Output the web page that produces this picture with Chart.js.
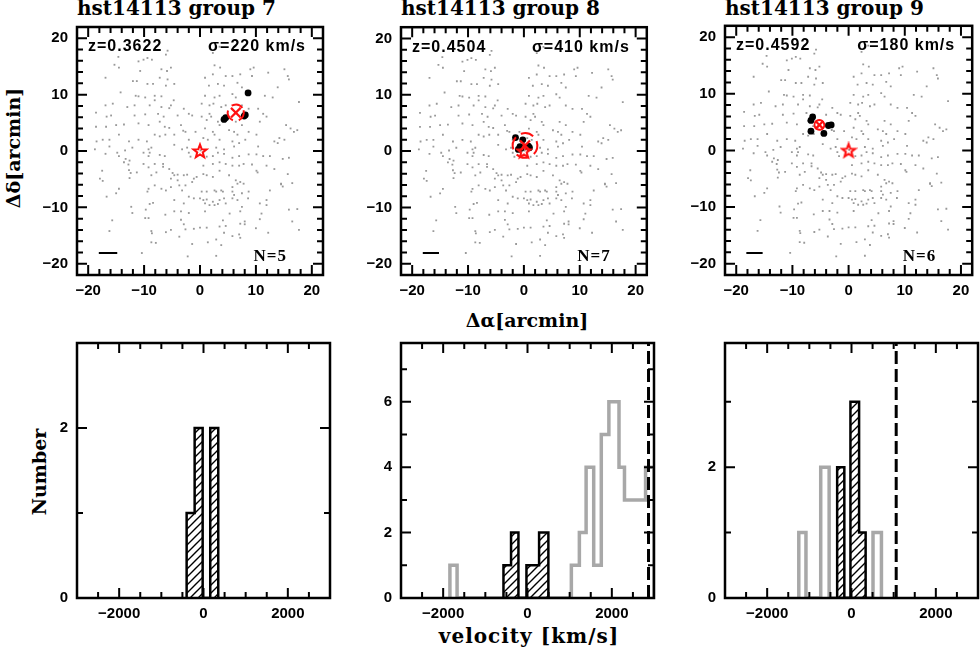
<!DOCTYPE html>
<html>
<head>
<meta charset="utf-8">
<script src="https://cdn.jsdelivr.net/npm/chart.js@4.4.1/dist/chart.umd.min.js"></script>
<style>
  body { margin: 0; background: #fff; width: 980px; height: 653px; position: relative; overflow: hidden; }
  canvas { position: absolute; }
  .lbl { position: absolute; font-family: "DejaVu Serif"; font-weight: bold; color: #000; white-space: nowrap; line-height: 1; }
  .c { transform: translate(-50%, -50%); }
  .r { transform: translate(-50%, -50%) rotate(-90deg); }
</style>
</head>
<body>
<div class="lbl" style="left:77px;top:-2px;font-size:20px">hst14113 group 7</div>
<div class="lbl" style="left:401px;top:-2px;font-size:20px">hst14113 group 8</div>
<div class="lbl" style="left:725px;top:-2px;font-size:20px">hst14113 group 9</div>
<div class="lbl r" style="left:13px;top:148px;font-size:19px">&Delta;&delta;[arcmin]</div>
<div class="lbl c" style="left:527px;top:320px;font-size:19px">&Delta;&alpha;[arcmin]</div>
<div class="lbl r" style="left:39px;top:472px;font-size:19px">Number</div>
<div class="lbl c" style="left:529px;top:636px;font-size:20px;letter-spacing:1px">velocity [km/s]</div>
<script>
// text of each panel
const redshifts = ['z=0.3622', 'z=0.4504', 'z=0.4592'];
const sigmas = [220, 410, 180];
const members = [5, 7, 6];

// galaxies in the field (arcmin), same field in every map
const fieldGalaxies = [
  [-5.8,17.8],[-6.1,17.1],[-14.6,16.7],[-15.3,15.3],[-14.5,14.8],[-11.0,15.9],[-10.1,16.2],[-9.4,16.5],[-8.6,16.2],[-16.9,13.0],
  [-6.9,14.5],[-5.9,14.2],[-5.2,14.8],[-10.7,14.2],[-7.2,13.0],[-5.8,12.7],[-12.0,12.4],[-11.3,12.4],[-9.4,11.9],[-8.4,11.9],
  [-6.1,11.6],[-4.6,11.9],[-14.2,10.4],[-11.5,9.8],[-11.0,9.7],[-9.8,9.5],[-8.1,9.8],[-6.9,9.7],[-8.1,9.0],[-4.7,9.0],
  [-5.2,8.1],[-5.5,7.6],[-16.9,8.1],[-15.6,8.4],[-13.0,7.8],[-11.7,8.1],[-9.0,8.1],[-6.9,7.8],[-2.9,7.5],[-2.0,6.6],
  [-1.4,6.3],[-18.6,6.8],[-15.9,6.3],[-16.7,6.1],[-11.7,6.3],[-9.8,6.5],[-7.5,6.6],[-6.5,6.1],[-4.0,6.3],[-13.6,4.7],
  [-15.0,4.6],[-16.8,4.3],[-18.6,4.3],[-11.0,4.9],[-9.2,4.6],[-7.2,5.2],[-6.3,4.3],[-5.5,4.1],[-3.4,4.6],[-2.6,3.4],
  [-3.0,3.6],[-8.1,2.9],[-7.2,2.6],[-6.2,2.9],[-4.6,2.9],[-0.8,3.4],[-2.0,2.0],[-18.5,1.7],[-17.4,2.0],[-16.2,2.0],
  [-14.5,2.9],[-12.7,1.7],[-11.0,2.0],[-9.5,1.7],[-8.7,0.6],[-9.2,0.3],[-4.6,1.1],[-2.3,0.6],[-3.2,0.3],[-16.2,0.8],
  [-12.1,0.6],[-13.4,0.1],[-18.8,0.3],
  [2.3,17.4],[3.5,18.5],[2.6,15.2],[3.6,14.8],[0.9,13.0],[2.3,13.6],[4.6,13.3],[5.8,13.3],[7.2,13.6],[9.0,14.5],
  [9.6,14.8],[9.3,13.3],[12.2,13.9],[15.1,14.5],[15.7,13.3],[15.9,12.7],[1.6,11.6],[3.2,11.9],[4.3,11.6],[6.7,12.1],
  [7.5,11.3],[13.9,11.3],[0.9,9.8],[2.6,9.5],[3.5,9.8],[5.8,10.1],[6.4,9.5],[11.6,9.8],[13.0,9.5],[1.7,8.1],
  [2.4,8.4],[0.3,8.4],[3.8,7.8],[4.6,8.1],[7.5,8.1],[8.7,7.5],[10.4,7.5],[11.3,6.6],[11.9,6.1],[1.7,6.6],
  [2.0,6.1],[0.3,6.1],[1.2,5.5],[3.2,5.2],[3.5,4.6],[6.4,5.2],[7.5,4.6],[10.7,5.2],[15.4,4.6],[16.2,4.0],
  [16.8,3.4],[0.9,4.0],[2.3,3.4],[2.6,2.9],[5.2,3.7],[6.1,3.4],[6.7,2.9],[8.7,3.4],[10.1,2.9],[14.2,2.3],
  [13.9,1.4],[13.3,1.7],[15.1,2.0],[0.6,2.3],[1.4,2.0],[3.5,2.0],[5.8,1.7],[6.1,0.8],[7.0,1.4],[8.1,2.0],
  [4.3,0.3],[2.9,0.6],[10.4,0.8],[17.7,8.7],[17.4,3.7],[0.1,0.1],
  [-16.9,-0.5],[-14.8,-0.3],[-14.5,-0.9],[-13.3,-1.4],[-12.6,-1.7],[-13.6,-2.0],[-12.8,-2.4],[-10.1,-0.3],[-9.2,-0.9],[-9.0,-0.3],
  [-7.2,-0.7],[-6.3,-0.9],[-2.0,-0.3],[-1.7,-1.0],[-8.1,-2.3],[-6.6,-2.3],[-6.6,-2.8],[-10.1,-2.3],[-9.2,-2.9],[-11.3,-3.8],
  [-12.4,-3.9],[-12.7,-3.4],[-17.5,-3.5],[-17.9,-4.9],[-17.4,-5.3],[-12.6,-4.8],[-8.7,-4.3],[-7.8,-3.8],[-5.5,-3.2],[-4.9,-3.9],
  [-4.6,-4.3],[-4.0,-4.2],[-2.3,-4.2],[-1.4,-5.5],[-1.1,-4.9],[-0.6,-4.6],[-2.9,-4.3],[-5.2,-4.9],[-4.0,-5.2],[-8.1,-6.1],
  [-9.2,-6.7],[-9.4,-7.2],[-6.9,-6.7],[-6.1,-7.0],[-5.2,-6.4],[-3.7,-6.1],[-3.2,-7.0],[-2.6,-6.1],[-14.5,-6.7],[-15.0,-7.5],
  [-16.7,-8.1],[-2.0,-8.1],[-1.1,-8.4],[0.0,-8.4],[-4.6,-8.7],[-2.9,-9.3],[-8.4,-9.2],[-9.0,-9.4],[-12.3,-9.9],[-12.1,-11.0],
  [-9.7,-10.4],[-4.6,-10.7],[-3.4,-10.7],[-2.0,-11.0],[-9.8,-11.9],[-9.2,-11.9],[-6.2,-11.3],[-3.4,-12.2],[-15.7,-12.3],[-2.9,-13.0],
  [-2.6,-13.9],[-1.1,-13.8],[0.0,-13.6],[-8.7,-14.2],[-8.6,-14.6],[-6.1,-14.4],[-5.2,-14.0],[-16.2,-14.2],[-3.7,-15.2],[-8.7,-16.2],
  [-7.9,-16.3],[-1.4,-16.5],[-10.4,-18.1],[-2.2,-18.7],
  [1.2,-1.0],[2.3,-0.9],[3.2,-0.3],[4.3,-0.5],[5.8,-1.2],[7.0,-0.9],[8.7,-0.6],[10.1,-0.6],[11.3,-0.9],[12.5,-0.9],
  [0.6,-2.6],[2.3,-2.3],[3.5,-2.0],[4.6,-2.3],[5.8,-2.6],[7.0,-2.6],[7.8,-2.3],[9.3,-2.4],[11.9,-2.6],[14.8,-1.4],
  [15.9,-1.2],[0.6,-4.1],[1.2,-4.3],[2.3,-4.6],[3.5,-3.5],[5.2,-4.3],[6.4,-5.2],[7.2,-5.5],[6.7,-5.8],[7.8,-5.8],
  [10.1,-3.5],[10.3,-3.8],[13.3,-3.2],[0.3,-7.2],[1.2,-7.2],[2.6,-7.0],[2.9,-7.2],[3.8,-7.0],[4.1,-7.2],[5.8,-6.4],
  [5.8,-7.2],[6.1,-7.8],[7.5,-7.5],[8.7,-7.2],[12.5,-7.0],[14.5,-5.8],[14.8,-6.3],[16.5,-5.7],[0.6,-8.7],[1.2,-8.6],
  [0.9,-9.3],[2.3,-9.0],[3.5,-8.7],[4.3,-8.4],[5.8,-8.4],[6.7,-8.7],[8.6,-8.4],[1.7,-9.6],[2.6,-9.6],[3.2,-9.4],
  [4.6,-9.3],[7.5,-9.9],[7.2,-10.7],[10.7,-9.3],[11.9,-8.7],[11.9,-9.6],[0.9,-10.7],[5.3,-11.1],[11.0,-11.1],[15.9,-10.4],
  [17.4,-10.3],[4.1,-12.3],[7.2,-12.9],[8.0,-12.5],[8.0,-13.0],[10.7,-12.1],[16.5,-12.5],[1.2,-13.6],[3.5,-13.4],[4.6,-13.3],
  [10.0,-13.7],[17.7,-14.0],[4.3,-14.5],[5.8,-15.1],[7.0,-14.8],[7.2,-15.4],[12.2,-14.5],[2.9,-15.7],[1.4,-16.2],[3.8,-16.7],
  [2.9,-18.6],[15.7,-4.1],[14.5,-5.9]
];

// group members
const memberX7 = [4.3, 4.6, 8.6, 8.1, 7.9];
const memberY7 = [5.6, 5.9, 10.3, 6.4, 6.2];
const memberX8 = [-1.5, -0.2, -1.0, -0.7, 0.8, 1.0, -0.5];
const memberY8 = [2.4, 2.0, 0.3, 0.8, 0.9, 0.6, 0.5];
const memberX9 = [-6.4, -6.7, -6.7, -3.6, -3.1, -4.4];
const memberY9 = [5.9, 5.3, 3.4, 4.4, 4.5, 3.0];

// group centres and radii (arcmin), cluster centre
const centres = [[6.4, 6.8], [0.2, 1.0], [-5.2, 4.5]];
const radii = [1.45, 2.2, 0.87];
const bcg = [0, 0];
const scaleBarX = [[-18.1, -14.8], [-18.1, -15.2], [-18.2, -15.3]];
const scaleBarY = -18.1;

// velocity histograms: bin edges (km/s) and counts
const edges7 = [-400, -210, -20, 160, 350];
const counts7 = [1, 2, 0, 2];
const edges8 = [-570, -390, -215, -25, 275, 495];
const counts8 = [1, 2, 0, 1, 2];
const fieldEdges8 = [-1840, -1670, 1040, 1230, 1390, 1570, 1750, 1930, 2170, 2300, 2800, 3000];
const fieldCounts8 = [1, 0, 1, 2, 4, 1, 5, 6, 4, 3, 4];
const edges9 = [-340, -170, -25, 180, 335];
const counts9 = [2, 0, 3, 1];
const fieldEdges9 = [-1250, -1080, -730, -530, 510, 710];
const fieldCounts9 = [1, 0, 2, 0, 1];
const vLines = [null, 2870, 1060];
const histMax = [3, 7.8, 3.9];

// axis ticks
const mapLabels = [-20, -10, 0, 10, 20];
const mapMinor = [-20, -18, -16, -14, -12, -10, -8, -6, -4, -2, 0, 2, 4, 6, 8, 10, 12, 14, 16, 18, 20];
const velLabels = [-2000, 0, 2000];
const velMinor = [-2500, -2000, -1500, -1000, -500, 0, 500, 1000, 1500, 2000, 2500];
const numLabels = [[0, 2], [0, 2, 4, 6], [0, 2]];
const numMinor = [[1, 2], [1, 2, 3, 4, 5, 6, 7], [1, 2, 3]];

const ML = 60, MT = 4, MR = 2, MB = 34, PW = 253;
const panelLeft = [77, 401, 725];
const RED = '#ff1010';
const tickFont = { family: 'Liberation Sans', size: 15, weight: 'bold' };
const fmt = v => (v < 0 ? '\u2212' + Math.abs(v) : String(v));

function makeCanvas(left, top, h) {
  const c = document.createElement('canvas');
  c.width = ML + PW + MR;
  c.height = MT + h + MB;
  c.style.left = (left - ML) + 'px';
  c.style.top = (top - MT) + 'px';
  document.body.appendChild(c);
  return c;
}

function axis(min, max, labels, isX) {
  return {
    type: 'linear', min: min, max: max,
    grid: { display: false, drawTicks: false },
    border: { display: false },
    ticks: { color: '#000', font: tickFont, padding: isX ? 7 : 9, maxRotation: 0, autoSkip: false, callback: fmt },
    afterBuildTicks: s => { s.ticks = labels.map(v => ({ value: v })); },
    afterFit: s => {
      if (isX) s.height = MB; else s.width = ML;
      s.paddingLeft = 0; s.paddingRight = 0; s.paddingTop = 0; s.paddingBottom = 0;
    }
  };
}

// frame with inward ticks on all four sides
const framePlugin = {
  id: 'frame',
  afterDatasetsDraw(chart, args, o) {
    const { ctx, chartArea: a } = chart;
    const sx = chart.scales.x, sy = chart.scales.y;
    ctx.save();
    ctx.strokeStyle = '#000';
    ctx.lineWidth = 2;
    ctx.beginPath();
    o.xTicks.forEach(v => {
      const len = o.xMajor.includes(v) ? 10 : 6;
      const p = sx.getPixelForValue(v);
      ctx.moveTo(p, a.bottom); ctx.lineTo(p, a.bottom - len);
      ctx.moveTo(p, a.top); ctx.lineTo(p, a.top + len);
    });
    o.yTicks.forEach(v => {
      const len = o.yMajor.includes(v) ? 10 : 6;
      const p = sy.getPixelForValue(v);
      ctx.moveTo(a.left, p); ctx.lineTo(a.left + len, p);
      ctx.moveTo(a.right, p); ctx.lineTo(a.right - len, p);
    });
    ctx.stroke();
    ctx.lineWidth = 2.5;
    ctx.strokeRect(a.left, a.top, a.right - a.left, a.bottom - a.top);
    ctx.restore();
  }
};

// group circle and the panel texts
const notesPlugin = {
  id: 'notes',
  afterDatasetsDraw(chart, args, o) {
    if (!o.z) return;
    const { ctx, chartArea: a } = chart;
    const sx = chart.scales.x, sy = chart.scales.y;
    ctx.save();
    const cx = sx.getPixelForValue(o.cen[0]), cy = sy.getPixelForValue(o.cen[1]);
    const r = sx.getPixelForValue(o.cen[0] + o.rad) - cx;
    ctx.strokeStyle = RED;
    ctx.lineWidth = 2;
    ctx.setLineDash(o.dash);
    ctx.beginPath();
    ctx.arc(cx, cy, r, -0.3, 2 * Math.PI - 0.3);
    ctx.stroke();
    ctx.setLineDash([]);
    ctx.fillStyle = '#000';
    ctx.textBaseline = 'middle';
    ctx.font = 'bold 16px "Liberation Sans"';
    ctx.letterSpacing = '1px';
    ctx.textAlign = 'left';
    ctx.fillText(o.z, a.left + 11, a.top + 20);
    ctx.textAlign = 'right';
    ctx.fillText(o.sig, a.right - 17, a.top + 20);
    ctx.font = 'bold 17px "Liberation Serif"';
    ctx.fillText(o.n, a.right - 36, a.bottom - 18);
    ctx.restore();
  }
};

Chart.register(framePlugin, notesPlugin);

// open red star for the cluster centre
const star = document.createElement('canvas');
star.width = 18; star.height = 18;
(function () {
  const g = star.getContext('2d');
  g.strokeStyle = RED; g.lineWidth = 2; g.lineJoin = 'miter';
  g.beginPath();
  for (let k = 0; k < 10; k++) {
    const rr = k % 2 ? 2.9 : 7;
    const ang = -Math.PI / 2 + k * Math.PI / 5;
    const px = 9 + rr * Math.cos(ang), py = 9.5 + rr * Math.sin(ang);
    if (k) g.lineTo(px, py); else g.moveTo(px, py);
  }
  g.closePath();
  g.stroke();
})();

// hatch pattern for the group histograms
const hatchTile = document.createElement('canvas');
hatchTile.width = 8; hatchTile.height = 8;
(function () {
  const g = hatchTile.getContext('2d');
  g.strokeStyle = '#000'; g.lineWidth = 1.4;
  g.beginPath();
  g.moveTo(-1, 9); g.lineTo(9, -1);
  g.moveTo(-1, 1); g.lineTo(1, -1);
  g.moveTo(7, 9); g.lineTo(9, 7);
  g.stroke();
})();
const hatch = hatchTile.getContext('2d').createPattern(hatchTile, 'repeat');

function outline(edges, counts) {
  const pts = [{ x: edges[0], y: 0 }];
  counts.forEach((n, k) => {
    pts.push({ x: edges[k], y: n });
    pts.push({ x: edges[k + 1], y: n });
  });
  pts.push({ x: edges[edges.length - 1], y: 0 });
  return pts;
}

const memberX = [memberX7, memberX8, memberX9];
const memberY = [memberY7, memberY8, memberY9];
const xSize = [6.8, 7, 5.6];
const circleDash = [[12, 6], [13, 6], []];

for (let i = 0; i < 3; i++) {
  const c = makeCanvas(panelLeft[i], 22, 253);
  new Chart(c, {
    type: 'scatter',
    data: {
      datasets: [
        { data: [{ x: centres[i][0], y: centres[i][1] }], pointStyle: 'crossRot', pointRadius: xSize[i],
          borderColor: RED, borderWidth: 2.2, backgroundColor: 'rgba(0,0,0,0)', order: 0 },
        { data: [{ x: bcg[0], y: bcg[1] }], pointStyle: star, order: 1 },
        { data: memberX[i].map((x, k) => ({ x: x, y: memberY[i][k] })), pointRadius: 3.4,
          backgroundColor: '#000', borderWidth: 0, order: 2 },
        { data: scaleBarX[i].map(x => ({ x: x, y: scaleBarY })), showLine: true, borderColor: '#000',
          borderWidth: 2, pointRadius: 0, order: 3 },
        { data: fieldGalaxies.map(p => ({ x: p[0], y: p[1] })), pointRadius: 1.3, pointStyle: 'rect',
          backgroundColor: '#999999', borderWidth: 0, order: 4 }
      ]
    },
    options: {
      responsive: false, animation: false, devicePixelRatio: 1,
      layout: { padding: { top: MT, right: MR, left: 0, bottom: 0 } },
      scales: { x: axis(-22, 22, mapLabels, true), y: axis(-22, 22, mapLabels, false) },
      plugins: {
        legend: { display: false }, tooltip: { enabled: false },
        frame: { xTicks: mapMinor, xMajor: mapLabels, yTicks: mapMinor, yMajor: mapLabels },
        notes: { z: redshifts[i], sig: '\u03c3=' + sigmas[i] + ' km/s', n: 'N=' + members[i],
                 cen: centres[i], rad: radii[i], dash: circleDash[i] }
      }
    }
  });
}

const groupEdges = [edges7, edges8, edges9];
const groupCounts = [counts7, counts8, counts9];
const fieldEdges = [null, fieldEdges8, fieldEdges9];
const fieldCounts = [null, fieldCounts8, fieldCounts9];

for (let i = 0; i < 3; i++) {
  const c = makeCanvas(panelLeft[i], 343, 255);
  const sets = [];
  if (vLines[i] !== null) {
    sets.push({ data: [{ x: vLines[i], y: 0 }, { x: vLines[i], y: histMax[i] }], borderColor: '#000',
      borderWidth: 3, borderDash: [13, 5], pointRadius: 0, fill: false, order: 0 });
  }
  sets.push({ data: outline(groupEdges[i], groupCounts[i]), borderColor: '#000', borderWidth: 2.5,
    backgroundColor: hatch, fill: 'origin', pointRadius: 0, tension: 0, order: 1 });
  if (fieldEdges[i]) {
    sets.push({ data: outline(fieldEdges[i], fieldCounts[i]), borderColor: '#a8a8a8', borderWidth: 3.5,
      fill: false, pointRadius: 0, tension: 0, order: 2 });
  }
  new Chart(c, {
    type: 'line',
    data: { datasets: sets },
    options: {
      responsive: false, animation: false, devicePixelRatio: 1,
      layout: { padding: { top: MT, right: MR, left: 0, bottom: 0 } },
      scales: { x: axis(-3000, 3000, velLabels, true), y: axis(0, histMax[i], numLabels[i], false) },
      plugins: {
        legend: { display: false }, tooltip: { enabled: false },
        frame: { xTicks: velMinor, xMajor: velLabels, yTicks: numMinor[i], yMajor: numLabels[i] }
      }
    }
  });
}
</script>
</body>
</html>
